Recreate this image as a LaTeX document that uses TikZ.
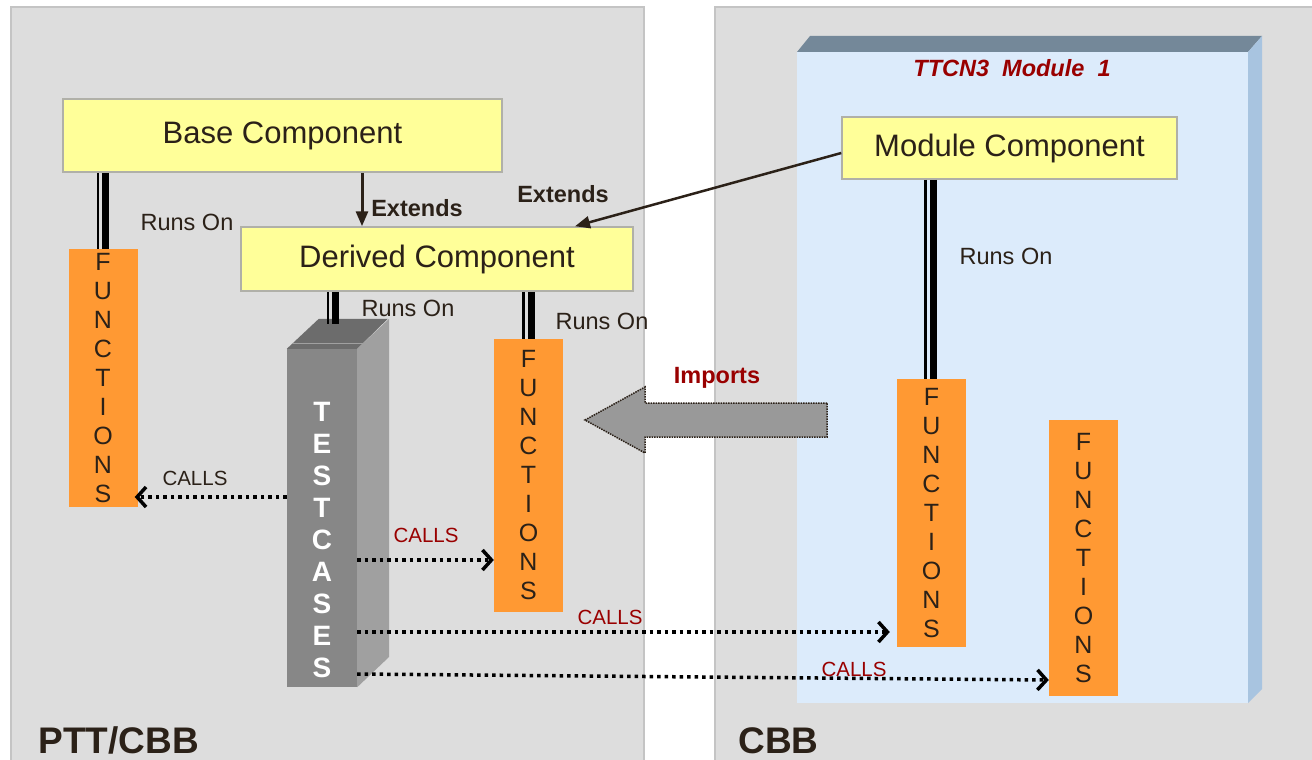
\documentclass[tikz,border=0pt]{standalone}
\usepackage{fontspec}
\setmainfont{Liberation Sans}
\usepackage{xcolor}
\usepackage{tikz}
\usetikzlibrary{arrows.meta,calc}

\definecolor{panelgray}{HTML}{DDDDDD}
\definecolor{panelline}{HTML}{C4C4C4}
\definecolor{compyellow}{HTML}{FFFF99}
\definecolor{compline}{HTML}{B0B0A8}
\definecolor{funcorange}{HTML}{FF9933}
\definecolor{inktext}{HTML}{2B2118}
\definecolor{darkred}{HTML}{990000}
\definecolor{modfront}{HTML}{DCEBFB}
\definecolor{modtop}{HTML}{748899}
\definecolor{modside}{HTML}{A8C4E0}
\definecolor{tcfront}{HTML}{878787}
\definecolor{tctop}{HTML}{6C6C6C}
\definecolor{tcside}{HTML}{A0A0A0}
\definecolor{importgray}{HTML}{999999}

\tikzset{
    comp/.style={draw=compline, line width=1.5pt, fill=compyellow, text=inktext,
        font=\fontsize{31}{37}\selectfont, inner sep=0pt},
    func/.style={fill=funcorange, text=inktext, minimum width=69pt, align=center,
        inner sep=0pt, font=\fontsize{25}{29}\selectfont},
    runlabel/.style={text=inktext, font=\fontsize{23.5}{28}\selectfont},
    extlabel/.style={text=inktext, font=\bfseries\fontsize{23.5}{28}\selectfont},
    callslabel/.style={text=darkred, font=\fontsize{20.5}{24}\selectfont},
    panellabel/.style={text=inktext, anchor=base west, font=\bfseries\fontsize{37}{44}\selectfont},
    extends/.style={draw=inktext, line width=3pt, -{Triangle[length=15pt,width=12pt]}},
    calls/.style={line width=3.5pt, dash pattern=on 3.5pt off 4pt,
        -{Straight Barb[length=9pt,width=20pt,line width=3.5pt]}},
    thinbar/.style={line width=2.5pt},
    thickbar/.style={line width=7pt},
}

\begin{document}
\begin{tikzpicture}[x=1pt,y=-1pt]
    \useasboundingbox (0,0) rectangle (1312,760);

    % Panels
    \fill[panelgray] (11,7) rectangle (644,775);
    \draw[panelline, line width=1.5pt] (11,775) -- (11,7) -- (644,7) -- (644,775);
    \fill[panelgray] (715,7) rectangle (1320,775);
    \draw[panelline, line width=1.5pt] (715,775) -- (715,7) -- (1320,7);
    \node[panellabel] (ptt) at (35,753) {PTT/CBB};
    \node[panellabel] (cbb) at (735,753) {CBB};

    % TTCN3 module (3D box)
    \fill[modfront] (797,52) rectangle (1248,703);
    \fill[modtop] (797,52) -- (810,36) -- (1262,36) -- (1248,52) -- cycle;
    \fill[modside] (1248,52) -- (1262,36) -- (1262,689) -- (1248,703) -- cycle;
    \node[text=darkred, font=\bfseries\itshape\fontsize{23.5}{28}\selectfont] (modtitle)
        at (1012,68) {TTCN3\ \ Module\ \ 1};

    % Components
    \node[comp, minimum width=439pt, minimum height=73pt] (base) at (282.5,135.5) {Base Component};
    \node[comp, minimum width=392pt, minimum height=64pt] (derived) at (437,259) {Derived Component};
    \node[comp, minimum width=335pt, minimum height=62pt] (module) at (1009.5,148) {Module Component};

    % Functions
    \node[func, minimum height=258pt] (fl) at (103,378) {F\\U\\N\\C\\T\\I\\O\\N\\S};
    \node[func, minimum height=273pt] (fm) at (528.5,475.5) {F\\U\\N\\C\\T\\I\\O\\N\\S};
    \node[func, minimum height=268pt] (f1) at (931.5,513) {F\\U\\N\\C\\T\\I\\O\\N\\S};
    \node[func, minimum height=276pt] (f2) at (1083.5,558) {F\\U\\N\\C\\T\\I\\O\\N\\S};

    % Testcases (3D bar)
    \node[fill=tcfront, minimum width=70pt, minimum height=338pt, inner sep=0pt] (tc) at (322,518) {};
    \fill[tctop] (tc.north west) -- ++(32,-30) -- ++(69,0) -- (tc.north east) -- cycle;
    \fill[tcside] (tc.north east) -- ++(32,-30) -- ++(0,338) -- (tc.south east) -- cycle;
    \draw[tcside, line width=1pt] ($(tc.north west)+(5,-5)$) -- ($(tc.north east)+(32,-5)$);
    \node[text=white, align=center, font=\bfseries\fontsize{28}{32}\selectfont] (tclabel)
        at (322,540) {T\\E\\S\\T\\C\\A\\S\\E\\S};
    \coordinate (tcbar) at (333,324);

    % Runs On
    \draw[thinbar] ([xshift=-5pt]fl.north |- base.south) -- ([xshift=-5pt]fl.north);
    \draw[thickbar] ([xshift=2.5pt]fl.north |- base.south) -- ([xshift=2.5pt]fl.north);
    \node[runlabel] (runs1) at (187,222) {Runs On};

    \draw[thinbar] ([xshift=-5pt]tcbar |- derived.south) -- ([xshift=-5pt]tcbar);
    \draw[thickbar] ([xshift=2.5pt]tcbar |- derived.south) -- ([xshift=2.5pt]tcbar);
    \node[runlabel] (runs2) at (408,308) {Runs On};

    \draw[thinbar] ([xshift=-5pt]fm.north |- derived.south) -- ([xshift=-5pt]fm.north);
    \draw[thickbar] ([xshift=2.5pt]fm.north |- derived.south) -- ([xshift=2.5pt]fm.north);
    \node[runlabel] (runs3) at (602,321) {Runs On};

    \draw[thinbar] ([xshift=-6pt]f1.north |- module.south) -- ([xshift=-6pt]f1.north);
    \draw[thickbar] ([xshift=1.5pt]f1.north |- module.south) -- ([xshift=1.5pt]f1.north);
    \node[runlabel] (runs4) at (1006,256) {Runs On};

    % Extends
    \coordinate (ext1) at (362,0);
    \coordinate (ext2) at (575,0);
    \draw[extends] (base.south -| ext1) -- (derived.north -| ext1);
    \node[extlabel] (extends1) at (417,208) {Extends};
    \draw[extends, line width=2.5pt] ([yshift=-5pt]module.west) -- (derived.north -| ext2);
    \node[extlabel] (extends2) at (563,194) {Extends};

    % Imports
    \draw[densely dotted, line width=1.5pt, draw=inktext, fill=importgray]
        (827,403) -- (645,403) -- (645,387) -- (585,420) -- (645,453) -- (645,437) -- (827,437) -- cycle;
    \node[text=darkred, font=\bfseries\fontsize{23.5}{28}\selectfont] (imports) at (717,378) {Imports};

    % Calls
    \coordinate (call1) at (0,497);
    \coordinate (call2) at (0,560);
    \coordinate (call3) at (0,632);
    \coordinate (call4a) at (0,674);
    \coordinate (call4b) at (0,680);
    \draw[calls, shorten >=-3pt] (tc.west |- call1) -- (fl.east |- call1);
    \node[text=inktext, font=\fontsize{20.5}{24}\selectfont] (calls1) at (195,478) {CALLS};
    \draw[calls] (tc.east |- call2) -- (fm.west |- call2);
    \node[callslabel] (calls2) at (426,535) {CALLS};
    \draw[calls, shorten >=7pt] (tc.east |- call3) -- (f1.west |- call3);
    \node[callslabel] (calls3) at (610,617) {CALLS};
    \draw[calls] (tc.east |- call4a) -- (f2.west |- call4b);
    \node[callslabel] (calls4) at (854,669) {CALLS};
\end{tikzpicture}
\end{document}
